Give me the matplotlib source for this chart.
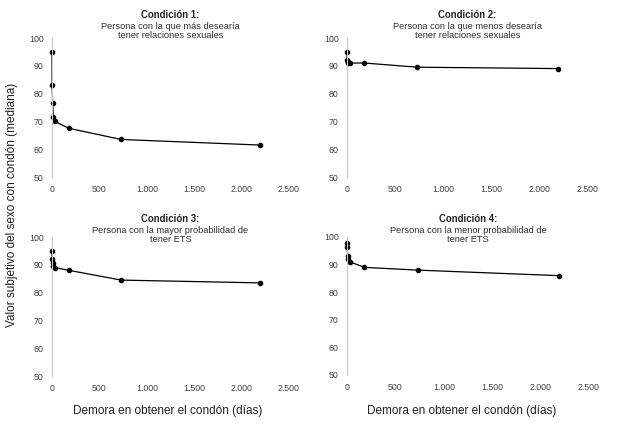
import matplotlib.pyplot as plt
import matplotlib.ticker as mticker

W, H = 624, 423

delays = [0, 1, 7, 14, 30, 180, 730, 2190]
cond1 = [95, 83, 76.5, 71.5, 70, 67.5, 63.5, 61.5]
cond2 = [95, 92, 91.5, 91, 91, 91, 89.5, 89]
cond3 = [95, 92, 90.5, 89.5, 89, 88, 84.5, 83.5]
cond4 = [98, 96.5, 93, 92, 91, 89, 88, 86]

titles = ["Condición 1:", "Condición 2:", "Condición 3:", "Condición 4:"]
subtitles = ["Persona con la que más desearía\ntener relaciones sexuales",
             "Persona con la que menos desearía\ntener relaciones sexuales",
             "Persona con la mayor probabilidad de\ntener ETS",
             "Persona con la menor probabilidad de\ntener ETS"]
series = [cond1, cond2, cond3, cond4]

# pixel boxes: left, right, top, bottom, title offset
boxes = [(52, 289, 38, 177, 23), (347, 588, 38, 177, 23),
         (52, 289, 237, 376, 18), (347, 589, 237, 375, 18)]

plt.rcParams['font.family'] = ['Liberation Sans', 'DejaVu Sans']
fig = plt.figure(figsize=(W / 100, H / 100), dpi=100)

def fmt(v, pos):
    return '{:,.0f}'.format(v).replace(',', '.')

for i in range(4):
    l, r, t, b, off = boxes[i]
    ax = fig.add_axes([l / W, 1 - b / H, (r - l) / W, (b - t) / H])
    ax.plot(delays, series[i], color='black', lw=0.9, marker='o', ms=3.0,
            clip_on=False)
    ax.set_xlim(0, 2500)
    ax.set_ylim(50, 100)
    ax.set_xticks([0, 500, 1000, 1500, 2000, 2500])
    ax.set_yticks([50, 60, 70, 80, 90, 100])
    ax.xaxis.set_major_formatter(mticker.FuncFormatter(fmt))
    for s in ['top', 'right', 'bottom']:
        ax.spines[s].set_visible(False)
    ax.spines['left'].set_color('#c8c8c8')
    ax.spines['left'].set_linewidth(0.8)
    ax.tick_params(length=0, labelsize=6.3, colors='#404040', pad=6)
    ax.set_facecolor('none')
    cx = (l + r) / 2 / W
    ty = 1 - (t - off) / H
    fig.text(cx, ty, titles[i], ha='center', va='center', fontsize=6.9,
             fontweight='bold', color='#202020')
    fig.text(cx, ty - 16 / H, subtitles[i], ha='center', va='center',
             fontsize=6.7, color='#303030', linespacing=1.05)

fig.text(12 / W, 1 - 205 / H, 'Valor subjetivo del sexo con condón (mediana)',
         rotation=90, ha='center', va='center', fontsize=8.5, color='#202020')
fig.text(168 / W, 1 - 411 / H, 'Demora en obtener el condón (días)',
         ha='center', va='center', fontsize=8.5, color='#202020')
fig.text(462 / W, 1 - 411 / H, 'Demora en obtener el condón (días)',
         ha='center', va='center', fontsize=8.5, color='#202020')

fig.savefig('out.png', dpi=100)
